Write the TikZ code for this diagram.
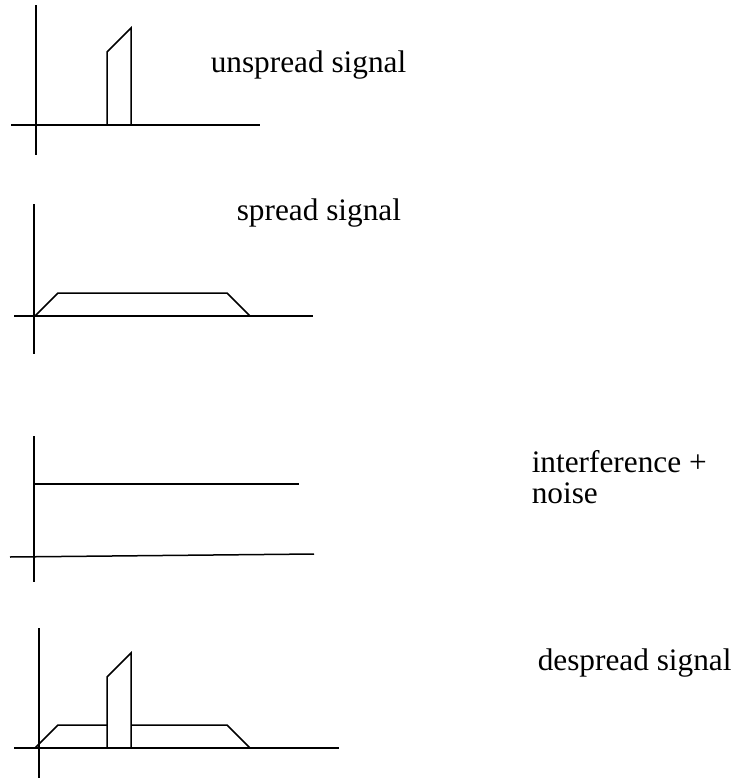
\documentclass[tikz,border=0pt]{standalone}
\usepackage{fontspec}
\setmainfont{Liberation Serif}
\begin{document}
\begin{tikzpicture}[x=1pt,y=-1pt,line width=1.5pt,line join=miter,
  lbl/.style={anchor=base west,inner sep=0pt,font=\fontsize{31.3}{37}\selectfont}]
\useasboundingbox (0,0) rectangle (735,779);
% panel 1: unspread
\draw (36,5) -- (36,155);
\draw (11,125) -- (260,125);
\draw (107,125) -- (107,52) -- (131,28) -- (131,125);
\node[lbl] (t1) at (210,72) {unspread signal};
% panel 2: spread
\draw (34,204) -- (34,354);
\draw (14,316) -- (313,316);
\draw (35,316) -- (58,293) -- (227,293) -- (250,316);
\node[lbl] (t2) at (236,220) {spread signal};
% panel 3: interference + noise
\draw (34,436) -- (34,582);
\draw (35,484) -- (299,484);
\draw (10,557) -- (314,554);
\node[lbl] (t3) at (531,472) {interference +};
\node[lbl] (t4) at (531,503) {noise};
% panel 4: despread
\draw (39,628) -- (39,778);
\draw (14,748) -- (339,748);
\draw (35,748) -- (58,725) -- (107,725);
\draw (107,748) -- (107,677) -- (131,653) -- (131,748);
\draw (131,725) -- (227,725) -- (250,748);
\node[lbl] (t5) at (537,670) {despread signal};
\end{tikzpicture}
\end{document}
